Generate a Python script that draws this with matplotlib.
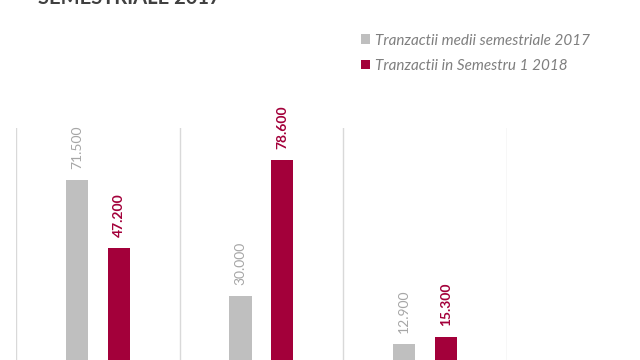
import matplotlib.pyplot as plt
import numpy as np

# data
categories = ['A', 'B', 'C']
medii_2017 = [71500, 30000, 12900]
sem1_2018 = [47200, 78600, 15300]
series_names = ['Tranzactii medii semestriale 2017', 'Tranzactii in Semestru 1 2018']

gray = '#bfbfbf'
red = '#a3003a'
gray_txt = '#a6a6a6'

plt.rcParams['font.family'] = ['Lato', 'DejaVu Sans']

fig = plt.figure(figsize=(6.4, 3.6), dpi=100)
ax = fig.add_axes([0.025, -0.0556, 0.767, 0.7])

x = np.arange(len(categories))
w = 0.135
off = 0.128
b1 = ax.bar(x - off, medii_2017, w, color=gray, label=series_names[0], zorder=2)
b2 = ax.bar(x + off, sem1_2018, w, color=red, label=series_names[1], zorder=2)

def fmt(v):
    return f'{v:,}'.replace(',', '.')

for rect, v in zip(b1, medii_2017):
    ax.annotate(fmt(v), (rect.get_x() + rect.get_width() / 2, v),
                xytext=(0, 8), textcoords='offset points', rotation=90,
                ha='center', va='bottom', fontsize=10, color=gray_txt)
for rect, v in zip(b2, sem1_2018):
    ax.annotate(fmt(v), (rect.get_x() + rect.get_width() / 2, v),
                xytext=(0, 8), textcoords='offset points', rotation=90,
                ha='center', va='bottom', fontsize=10, color=red,
                fontweight='bold')

# separators between categories
for b in np.arange(-0.5, len(categories), 1.0):
    ax.axvline(b, color='#d9d9d9', lw=1, zorder=1)

ax.set_xlim(-0.5, len(categories) - 0.5)
ax.set_ylim(0, 90000)
for s in ax.spines.values():
    s.set_visible(False)
ax.set_xticks([])
ax.set_yticks([])

fig.legend(handles=[b1, b2], labels=series_names, loc='upper left',
           bbox_to_anchor=(0.542, 0.945), frameon=False,
           prop={'style': 'italic', 'size': 11}, labelcolor='#7f7f7f',
           handlelength=0.6, handleheight=0.6, handletextpad=0.35,
           labelspacing=0.75)

# title, mostly cut off at the top as in the source image
fig.text(0.06, 1.006, 'SEMESTRIALE 2017', ha='left', va='center',
         fontsize=14.5, fontweight='bold', color='#404040')

fig.savefig('out.png', dpi=100)
